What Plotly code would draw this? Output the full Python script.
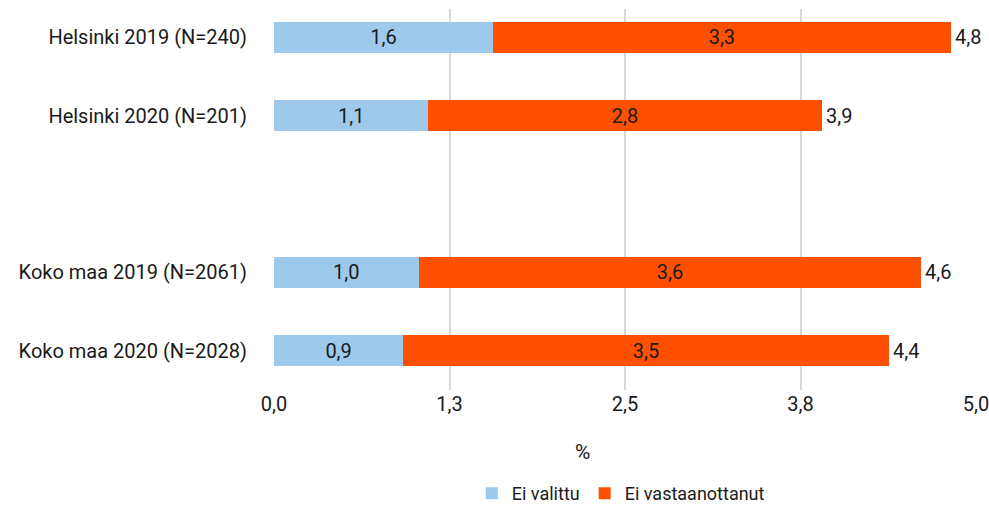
import plotly.graph_objects as go

categories = ["Helsinki 2019 (N=240)", "Helsinki 2020 (N=201)", "Koko maa 2019 (N=2061)", "Koko maa 2020 (N=2028)"]
slots = [0, 1, 3, 4]  # row slots, an empty row separates Helsinki and Koko maa
ei_valittu = [1.56, 1.10, 1.03, 0.92]
ei_vastaanottanut = [3.26, 2.80, 3.58, 3.46]
x_tickvals = [0, 1.25, 2.5, 3.75, 5]
x_ticktext = ["0,0", "1,3", "2,5", "3,8", "5,0"]
x_title = "%"

BLUE = "#9fc9eb"
ORANGE = "#ff5000"
FONT = "Roboto"
FS = 20

def fmt(v):
    return f"{v:.1f}".replace(".", ",")

totals = [a + b for a, b in zip(ei_valittu, ei_vastaanottanut)]

fig = go.Figure()
fig.add_trace(go.Bar(
    y=slots, x=ei_valittu, orientation="h", name="Ei valittu",
    marker=dict(color=BLUE, line=dict(width=0)), width=0.4,
    text=[fmt(v) for v in ei_valittu], textposition="inside", insidetextanchor="middle",
    textfont=dict(color="#1a1a1a", size=FS, family=FONT), hoverinfo="skip",
))
fig.add_trace(go.Bar(
    y=slots, x=ei_vastaanottanut, orientation="h", name="Ei vastaanottanut",
    marker=dict(color=ORANGE, line=dict(width=0)), width=0.4,
    text=[fmt(v) for v in ei_vastaanottanut], textposition="inside", insidetextanchor="middle",
    textfont=dict(color="#1a1a1a", size=FS, family=FONT), hoverinfo="skip",
))
for s, t in zip(slots, totals):
    fig.add_annotation(x=t, y=s, text=fmt(t), showarrow=False, xanchor="left", xshift=2,
                       font=dict(size=FS, color="#1a1a1a", family=FONT))
fig.add_annotation(x=0.44, y=-0.163, xref="paper", yref="paper", text=x_title,
                   showarrow=False, xanchor="center", yanchor="middle",
                   font=dict(size=21, color="#1a1a1a", family=FONT))

fig.update_layout(
    width=989, height=507, barmode="stack",
    margin=dict(l=274, r=13, t=9, b=117, autoexpand=False),
    plot_bgcolor="white", paper_bgcolor="white",
    font=dict(family=FONT, size=FS, color="#1a1a1a"),
    uniformtext=dict(mode=False),
    showlegend=True,
    legend=dict(orientation="h", x=0.494, xanchor="center", y=-0.272, yanchor="middle",
                font=dict(size=18), traceorder="normal"),
)
fig.update_xaxes(range=[0, 5], tickvals=x_tickvals, ticktext=x_ticktext, automargin=False,
                 showgrid=True, gridcolor="#d9d9d9", gridwidth=2, zeroline=False,
                 showline=False, ticks="", tickfont=dict(size=FS), ticklabeloverflow="allow")
fig.update_yaxes(range=[4.5, -0.36], tickvals=slots, ticktext=categories, automargin=False,
                 showgrid=False, zeroline=False, showline=False,
                 ticks="outside", ticklen=22, tickcolor="rgba(0,0,0,0)", tickfont=dict(size=FS))

fig.write_html("out.html", config={"displayModeBar": False},
               post_script="document.body.style.margin='0';document.body.style.padding='0';")
